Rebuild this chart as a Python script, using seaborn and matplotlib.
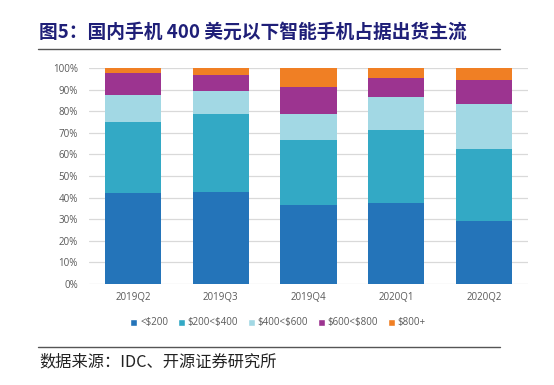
import numpy as np
import pandas as pd
import matplotlib
matplotlib.use("Agg")
import matplotlib.pyplot as plt
import seaborn as sns
from matplotlib.patches import Patch

quarters = ["2019Q2", "2019Q3", "2019Q4", "2020Q1", "2020Q2"]
segments = ["<$200", "$200<$400", "$400<$600", "$600<$800", "$800+"]
share_lt200 = [42.0, 42.6, 36.6, 37.7, 29.1]
share_200_400 = [33.0, 35.9, 30.0, 33.4, 33.2]
share_400_600 = [12.3, 10.9, 11.9, 15.4, 20.9]
share_600_800 = [10.6, 7.5, 12.9, 9.0, 11.1]
share_800p = [2.1, 3.1, 8.6, 4.5, 5.7]
colors = ["#2474b9", "#33a9c5", "#a2d8e4", "#9c3490", "#f07f24"]

title = "图5：国内手机 400 美元以下智能手机占据出货主流"
source = "数据来源：IDC、开源证券研究所"

sns.set_theme(style="white")
plt.rcParams['font.family'] = ['Open Sans', 'Noto Sans CJK SC', 'DejaVu Sans']
plt.rcParams['text.parse_math'] = False

fig = plt.figure(figsize=(5.54, 3.85), dpi=100)
W, H = 554, 385
ax = fig.add_axes([89 / W, 1 - 284 / H, (528 - 89) / W, (284 - 68) / H])

series = [share_lt200, share_200_400, share_400_600, share_600_800, share_800p]
bottom = np.zeros(len(quarters))
for name, vals, c in zip(segments, series, colors):
    df = pd.DataFrame({"quarter": quarters, "value": np.array(vals) / 100.0})
    sns.barplot(data=df, x="quarter", y="value", color=c, bottom=bottom,
                width=0.64, ax=ax, saturation=1, linewidth=0, zorder=3)
    bottom = bottom + np.array(vals) / 100.0

ax.set_xlim(-0.5, 4.5)
ax.set_ylim(0, 1.0)
ax.set_yticks(np.arange(0, 1.01, 0.1))
ax.set_yticklabels([f"{int(round(v*100))}%" for v in np.arange(0, 1.01, 0.1)])
ax.yaxis.grid(True, color="#d9d9d9", linewidth=0.9, zorder=0)
ax.set_axisbelow(True)
for s in ax.spines.values():
    s.set_visible(False)
ax.set_xlabel("")
ax.set_ylabel("")
ax.tick_params(axis="both", length=0, labelsize=7, colors="#595959")
ax.tick_params(axis="y", pad=8)
ax.tick_params(axis="x", pad=6)

handles = [Patch(facecolor=c, label=s.replace("$", r"\$")) for s, c in zip(segments, colors)]
leg = fig.legend(handles=handles, loc="center", bbox_to_anchor=(278 / W, 1 - 323 / H),
                 ncol=5, frameon=False, fontsize=7, handlelength=0.7, handleheight=0.7,
                 handletextpad=0.3, columnspacing=1.0, labelcolor="#595959")
for t, s in zip(leg.get_texts(), segments):
    t.set_text(s)

fig.text(39 / W, 1 - 32 / H, title, fontsize=13.5, fontweight="bold",
         color="#1f1f78", family=['Noto Sans CJK SC', 'DejaVu Sans'], va="center", ha="left")
fig.add_artist(plt.Line2D([38 / W, 500 / W], [1 - 49 / H, 1 - 49 / H], color="#555555", linewidth=1.0))
fig.add_artist(plt.Line2D([38 / W, 500 / W], [1 - 347 / H, 1 - 347 / H], color="#555555", linewidth=1.0))
fig.text(39 / W, 1 - 362 / H, source, fontsize=11.7, color="#222222",
         family=['Noto Sans CJK SC', 'DejaVu Sans'], va="center", ha="left")

fig.savefig("out.png", dpi=100, facecolor="white")
